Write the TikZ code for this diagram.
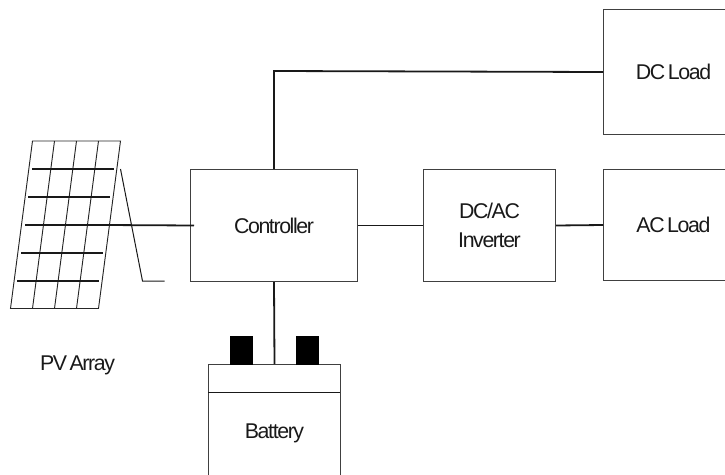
\documentclass[tikz,border=0pt]{standalone}
\usepackage{fontspec}
\setmainfont[LetterSpace=-6.5,WordSpace=0.55]{Liberation Sans}
\begin{document}
\begin{tikzpicture}[x=0.75pt,y=-0.75pt,
  block/.style={draw=black!75,line width=0.75pt,rectangle,inner sep=0pt,align=center,font=\fontsize{16}{21.5}\selectfont,text=black!90,anchor=north west},
  wire/.style={draw=black!90,line width=1.35pt},
  thin wire/.style={draw=black!90,line width=0.75pt},
  cell/.style={draw=black!85,line width=0.7pt},
  rail/.style={draw=black!90,line width=0.85pt},
  post/.style={draw=black,fill=black,inner sep=0pt,minimum width=16.5pt,minimum height=21pt,anchor=north west},
  lab/.style={font=\fontsize{16}{21.5}\selectfont,text=black!90,inner sep=0pt}]
\useasboundingbox (0,0) rectangle (725,475);
\clip (0,0) rectangle (725,475);
% panel
\coordinate (pTL) at (32.5,141); \coordinate (pTR) at (120.5,141);
\coordinate (pBL) at (10.5,308.5); \coordinate (pBR) at (98.5,308.5);
\draw[cell] (pTL) -- (pTR) -- (pBR) -- (pBL) -- cycle;
\coordinate (t1) at (54.5,141); \coordinate (b1) at (32.5,308.5);
\coordinate (t2) at (76.5,141); \coordinate (b2) at (54.5,308.5);
\coordinate (t3) at (98.5,141); \coordinate (b3) at (76.5,308.5);
\draw[cell] (t1) -- (b1) (t2) -- (b2) (t3) -- (b3);
\coordinate (r1a) at (32,169); \coordinate (r1b) at (113.5,169);
\coordinate (r2a) at (28,197); \coordinate (r2b) at (109.5,197);
\coordinate (r3a) at (25,225); \coordinate (r3b) at (106,225);
\coordinate (r4a) at (21,253); \coordinate (r4b) at (102.5,253);
\coordinate (r5a) at (17,281); \coordinate (r5b) at (98.5,281);
\draw[rail] (r1a) -- (r1b) (r2a) -- (r2b) (r3a) -- (r3b) (r4a) -- (r4b) (r5a) -- (r5b);
% stand
\coordinate (s1) at (120.5,169); \coordinate (s2) at (142.5,281); \coordinate (s3) at (164.5,281);
\draw[thin wire] (s1) -- (s2) -- (s3);
% blocks
\node[block,minimum width=125.25pt,minimum height=84pt] (ctrl) at (190,169) {Controller};
\node[block,minimum width=99pt,minimum height=84pt] (inv) at (423,169) {DC/AC\\Inverter};
\node[block,minimum width=105pt,minimum height=83.25pt] (ac) at (603,169) {AC Load};
\node[block,minimum width=105pt,minimum height=93.75pt] (dc) at (603,9) {DC Load};
\node[block,minimum width=99pt,minimum height=103.5pt] (bat) at (208,364) {Battery};
\coordinate (barL) at (208,392); \coordinate (barR) at (340,392);
\draw[thin wire] (barL) -- (barR);
\node[post] (p1) at (230,336) {};
\node[post] (p2) at (296,336) {};
\node[lab] (pv) at (77.5,365) {PV Array};
% connectors
\coordinate (tap) at (274,71);
\draw[wire] (ctrl.north) -- (tap) -- (dc.west);
\draw[wire] (r3b) -- ([xshift=3pt]ctrl.west);
\draw[wire] (ctrl.east) -- (inv.west);
\draw[wire] (inv.east) -- (ac.west);
\draw[wire] (ctrl.south) -- (bat.north);
\end{tikzpicture}
\end{document}
